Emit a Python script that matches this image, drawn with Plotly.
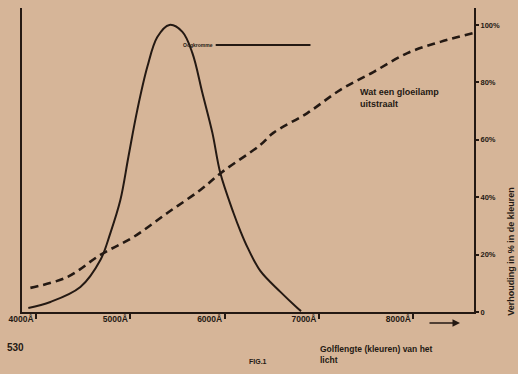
import plotly.graph_objects as go

# Eye sensitivity curve (solid)
eye_wavelength = [3918, 4152, 4470, 4682, 4788, 4894, 4979, 5074, 5180, 5286, 5414,
                  5552, 5658, 5764, 5870, 5954, 6094, 6167, 6241, 6378, 6591, 6771, 6810]
eye_percent = [1.4, 3.5, 8.7, 18.1, 27.5, 39.0, 54.0, 70.4, 85.4, 95.8, 100,
               97.6, 90.2, 76.3, 62.4, 48.4, 34.5, 28.2, 22.6, 14.3, 7.0, 1.4, 0.3]

# Incandescent lamp emission (dashed)
lamp_wavelength = [3940, 4332, 4682, 5032, 5392, 5742, 5975, 6378, 6516, 6877,
                   7227, 7577, 7938, 8288, 8638]
lamp_percent = [8.4, 12.2, 19.9, 26.1, 34.5, 42.5, 48.8, 58.2, 62.4, 69.3,
                77.4, 83.6, 90.2, 94.1, 97.2]

x_ticks = [4000, 5000, 6000, 7000, 8000]
x_tick_labels = ["4000Å", "5000Å", "6000Å", "7000Å", "8000Å"]
y_ticks = [0, 20, 40, 60, 80, 100]
y_tick_labels = ["0", "20%", "40%", "60%", "80%", "100%"]

INK = "#241913"
PAPER = "#d6b598"
FONT = dict(family="Liberation Sans", size=8, color=INK)


def bold(size):
    return dict(family="Liberation Sans", size=size, color=INK, weight="bold")


fig = go.Figure()
fig.add_trace(go.Scatter(x=eye_wavelength, y=eye_percent, mode="lines",
                         line=dict(color=INK, width=2, shape="spline", smoothing=1.0),
                         showlegend=False, hoverinfo="skip"))
fig.add_trace(go.Scatter(x=lamp_wavelength, y=lamp_percent, mode="lines",
                         line=dict(color=INK, width=2.6, dash="8px,5px", shape="spline", smoothing=1.0),
                         showlegend=False, hoverinfo="skip"))

fig.update_layout(
    width=518, height=374,
    margin=dict(l=22, r=44, t=8, b=62),
    paper_bgcolor=PAPER, plot_bgcolor=PAPER,
    font=FONT,
    xaxis=dict(range=[3851, 8644], tickvals=x_ticks, ticktext=x_tick_labels,
               showgrid=False, zeroline=False, showline=True, linecolor=INK, linewidth=2,
               ticks="outside", ticklen=5, tickwidth=1.5, tickcolor=INK,
               ticklabelshift=-15, ticklabelstandoff=-7,
               tickfont=bold(8.5)),
    yaxis=dict(range=[0, 105.9], tickvals=y_ticks, ticktext=y_tick_labels, side="right",
               showgrid=False, zeroline=False, showline=True, mirror=True,
               linecolor=INK, linewidth=2,
               ticks="outside", ticklen=3, tickwidth=1.5, tickcolor=INK,
               tickfont=bold(7.5)),
)

# leader line for eye curve label
fig.add_shape(type="line", x0=5905, x1=6910, y0=93, y1=93, xref="x", yref="y",
              line=dict(color=INK, width=2))

fig.add_annotation(x=5900, y=93, xref="x", yref="y", text="Oogkromme", showarrow=False,
                   xanchor="right", yanchor="middle", font=bold(5))
fig.add_annotation(x=7418, y=79, xref="x", yref="y", text="Wat een gloeilamp<br>uitstraalt",
                   showarrow=False, xanchor="left", yanchor="top", align="left", font=bold(9))
fig.add_annotation(x=1.08, y=-0.02, xref="paper", yref="paper",
                   text="Verhouding in % in de kleuren", textangle=-90, showarrow=False,
                   xanchor="center", yanchor="bottom", font=bold(9))
fig.add_annotation(x=-0.038, y=-0.118, xref="paper", yref="paper", text="530",
                   showarrow=False, xanchor="left", yanchor="middle", font=bold(10))
fig.add_annotation(x=0.655, y=-0.099, xref="paper", yref="paper",
                   text="Golflengte (kleuren) van het<br>licht", showarrow=False,
                   xanchor="left", yanchor="top", align="left", font=bold(8.5))
fig.add_annotation(x=0.522, y=-0.164, xref="paper", yref="paper", text="FIG.1",
                   showarrow=False, xanchor="center", yanchor="middle", font=bold(7))
fig.add_annotation(x=0.969, y=-0.036, xref="paper", yref="paper", text="",
                   showarrow=True, ax=-32, ay=0, arrowhead=2, arrowsize=1, arrowwidth=1.5,
                   arrowcolor=INK)

fig.write_html("out.html", config={"displayModeBar": False},
               post_script="document.body.style.margin='0px';document.body.style.overflow='hidden';")
